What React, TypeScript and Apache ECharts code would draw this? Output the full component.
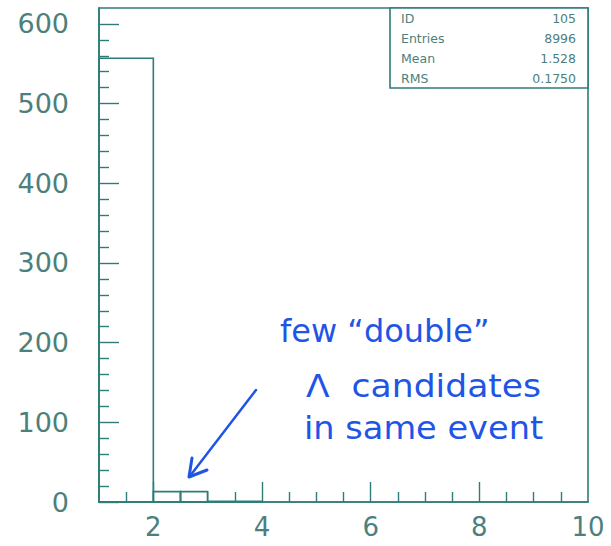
import React, { useEffect, useRef } from "react";
import * as echarts from "echarts";

// Histogram bins (low edge, high edge, count)
const binLow = [1, 2, 2.5, 3];
const binHigh = [2, 2.5, 3, 4];
const binCounts = [557, 13, 13, 1];

// Axis tick / label values
const xLabelValues = [2, 4, 6, 8, 10];
const xMajorTicks = [2, 4, 6, 8];
const xMinorTicks = [1.5, 2.5, 3, 3.5, 4.5, 5, 5.5, 6.5, 7, 7.5, 8.5, 9, 9.5];
const yMajorTicks = [0, 100, 200, 300, 400, 500, 600];
const yMinorTicks = [
  20, 40, 60, 80, 120, 140, 160, 180, 220, 240, 260, 280, 320, 340, 360, 380,
  420, 440, 460, 480, 520, 540, 560, 580,
];

// Stats box
const statsLabels = ["ID", "Entries", "Mean", "RMS"];
const statsValues = ["105", "8996", "1.528", "0.1750"];

// Handwritten note
const noteLines = ["few \u201cdouble\u201d", "\u039b  candidates", "in same event"];

const LINE = "#2e7c79";
const TEXT = "#4c7f7d";
const BLUE = "#1f55e6";
const FONT = "DejaVu Sans";

export default function App() {
  const ref = useRef<HTMLDivElement>(null);
  useEffect(() => {
    if (!ref.current) return;
    const chart = echarts.init(ref.current, null, { renderer: "svg" });
    const data = binLow.map((lo, i) => [lo, binHigh[i], binCounts[i]]);
    const gridLeft = 99;
    const gridTop = 8;
    const gridRight = 23;
    const gridBottom = 44;
    const boxRight = 611 - gridRight;

    const xBase = {
      type: "value" as const,
      min: 1,
      max: 10,
      position: "bottom" as const,
      splitLine: { show: false },
    };
    const yBase = {
      type: "value" as const,
      min: 0,
      max: 620,
      position: "left" as const,
      splitLine: { show: false },
    };

    const noteStyle = (t: string) => ({
      text: t,
      fill: BLUE,
      font: `32px "${FONT}"`,
      textVerticalAlign: "middle",
    });

    chart.setOption({
      animation: false,
      backgroundColor: "#ffffff",
      grid: {
        left: gridLeft,
        right: gridRight,
        top: gridTop,
        bottom: gridBottom,
        show: true,
        borderColor: LINE,
        borderWidth: 1.6,
        containLabel: false,
      },
      xAxis: [
        {
          ...xBase,
          axisLine: { show: true, lineStyle: { color: LINE, width: 1.6 } },
          axisTick: {
            show: true,
            inside: true,
            length: 10,
            customValues: xMinorTicks,
            lineStyle: { color: LINE, width: 1.4 },
          },
          axisLabel: {
            show: true,
            customValues: xLabelValues,
            color: TEXT,
            fontFamily: FONT,
            fontSize: 26,
            margin: 12,
          },
        },
        {
          ...xBase,
          axisLine: { show: false },
          axisTick: {
            show: true,
            inside: true,
            length: 20,
            customValues: xMajorTicks,
            lineStyle: { color: LINE, width: 1.4 },
          },
          axisLabel: { show: false },
        },
      ],
      yAxis: [
        {
          ...yBase,
          axisLine: { show: true, lineStyle: { color: LINE, width: 1.6 } },
          axisTick: {
            show: true,
            inside: true,
            length: 20,
            customValues: yMajorTicks,
            lineStyle: { color: LINE, width: 1.4 },
          },
          axisLabel: {
            show: true,
            customValues: yMajorTicks,
            color: TEXT,
            fontFamily: FONT,
            fontSize: 27,
            margin: 30,
          },
        },
        {
          ...yBase,
          axisLine: { show: false },
          axisTick: {
            show: true,
            inside: true,
            length: 10,
            customValues: yMinorTicks,
            lineStyle: { color: LINE, width: 1.4 },
          },
          axisLabel: { show: false },
        },
      ],
      series: [
        {
          type: "custom",
          xAxisIndex: 0,
          yAxisIndex: 0,
          encode: { x: [0, 1], y: 2 },
          data,
          renderItem: (_params: any, api: any) => {
            const x0 = api.value(0);
            const x1 = api.value(1);
            const y = api.value(2);
            const p0 = api.coord([x0, 0]);
            const p1 = api.coord([x1, y]);
            return {
              type: "rect",
              shape: {
                x: p0[0],
                y: p1[1],
                width: p1[0] - p0[0],
                height: p0[1] - p1[1],
              },
              style: { fill: "none", stroke: LINE, lineWidth: 1.6 },
            };
          },
        },
      ],
      graphic: [
        {
          type: "rect",
          shape: { x: 390, y: gridTop, width: boxRight - 390, height: 80 },
          style: { fill: "#ffffff", stroke: LINE, lineWidth: 1.6 },
          z: 10,
        },
        ...statsLabels.map((s, i) => ({
          type: "text",
          x: 401,
          y: 18 + i * 20,
          z: 11,
          style: {
            text: s,
            fill: TEXT,
            font: `12.5px "${FONT}"`,
            textVerticalAlign: "middle",
            textAlign: "left",
          },
        })),
        ...statsValues.map((s, i) => ({
          type: "text",
          x: 576,
          y: 18 + i * 20,
          z: 11,
          style: {
            text: s,
            fill: TEXT,
            font: `12.5px "${FONT}"`,
            textVerticalAlign: "middle",
            textAlign: "right",
          },
        })),
        {
          type: "text",
          x: 280,
          y: 331,
          scaleX: 1.0,
          z: 12,
          style: noteStyle(noteLines[0]),
        },
        {
          type: "text",
          x: 306,
          y: 386,
          scaleX: 1.08,
          z: 12,
          style: noteStyle(noteLines[1]),
        },
        {
          type: "text",
          x: 304,
          y: 428,
          scaleX: 1.05,
          z: 12,
          style: noteStyle(noteLines[2]),
        },
        {
          type: "line",
          z: 12,
          shape: { x1: 256, y1: 390, x2: 190, y2: 476 },
          style: { stroke: BLUE, lineWidth: 2.5, lineCap: "round" },
        },
        {
          type: "polyline",
          z: 12,
          shape: { points: [[192, 458], [189, 477], [207, 470]] },
          style: { stroke: BLUE, lineWidth: 3, fill: "none", lineCap: "round", lineJoin: "round" },
        },
      ],
    });
    return () => chart.dispose();
  }, []);
  return (
    <div
      ref={ref}
      style={{ position: "fixed", left: 0, top: 0, width: 611, height: 546, background: "#fff" }}
    />
  );
}
